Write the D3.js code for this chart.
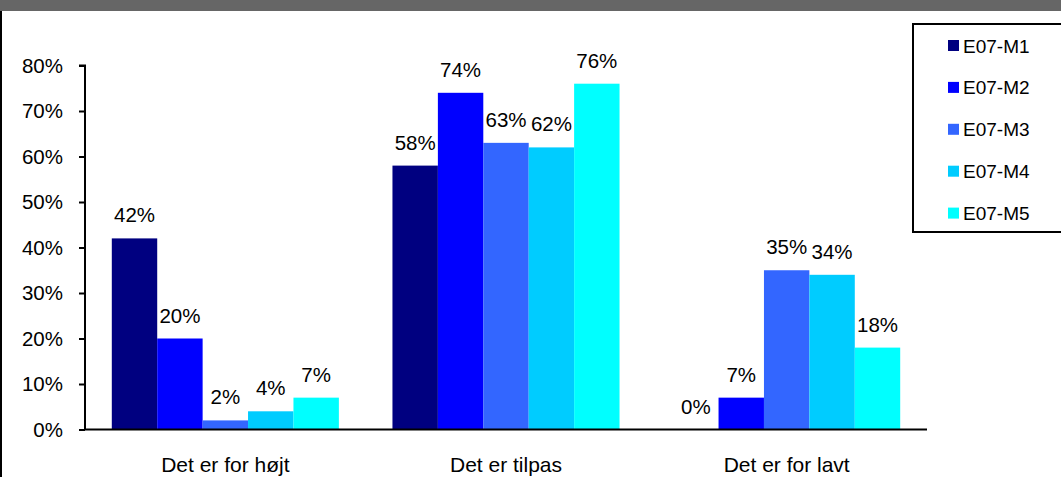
<!DOCTYPE html>
<html>
<head>
<meta charset="utf-8">
<script src="https://cdn.jsdelivr.net/npm/d3@7"></script>
<style>
  html, body { margin: 0; padding: 0; background: #fff; }
  svg { display: block; font-family: "Liberation Sans", Arial, sans-serif; }
</style>
</head>
<body>
<svg id="chart" width="1061" height="477"></svg>
<script>
// Answer categories and survey rounds
const categories = ["Det er for højt", "Det er tilpas", "Det er for lavt"];
const seriesNames = ["E07-M1", "E07-M2", "E07-M3", "E07-M4", "E07-M5"];

// Share of answers per round, in percent (one array per category)
const forHoejt = [42, 20, 2, 4, 7];
const tilpas   = [58, 74, 63, 62, 76];
const forLavt  = [0, 7, 35, 34, 18];

const yTicks = [0, 10, 20, 30, 40, 50, 60, 70, 80];

const seriesColors = ["#000080", "#0000FF", "#3366FF", "#00CCFF", "#00FFFF"];

const valuesByCategory = [forHoejt, tilpas, forLavt];
const rows = categories.map((c, i) => ({
  category: c,
  values: seriesNames.map((s, j) => ({ series: s, value: valuesByCategory[i][j] }))
}));

const svg = d3.select("#chart");
const W = 1061, H = 477;

// Frame: dark strip on top and a rule down the left side
svg.append("rect").attr("x", 0).attr("y", 0).attr("width", W).attr("height", 11).attr("fill", "#666666");
svg.append("rect").attr("x", 0).attr("y", 11).attr("width", 2).attr("height", H - 11).attr("fill", "#000");

const plot = { left: 85, right: 927, top: 65.5, bottom: 429.5 };

const x0 = d3.scaleBand().domain(categories).range([plot.left, plot.right]).padding(0);
const x1 = d3.scaleBand().domain(seriesNames).range([0, x0.bandwidth()])
  .paddingInner(0).paddingOuter(0.59);
const y = d3.scaleLinear().domain([0, 80]).range([plot.bottom, plot.top]);
const color = d3.scaleOrdinal().domain(seriesNames).range(seriesColors);

// Bars
const groups = svg.append("g").selectAll("g").data(rows).join("g")
  .attr("transform", d => `translate(${x0(d.category)},0)`);

groups.selectAll("rect").data(d => d.values).join("rect")
  .attr("x", d => x1(d.series))
  .attr("y", d => y(d.value))
  .attr("width", x1.bandwidth())
  .attr("height", d => y(0) - y(d.value))
  .attr("fill", d => color(d.series));

// Value labels above bars
groups.selectAll("text").data(d => d.values).join("text")
  .attr("x", d => x1(d.series) + x1.bandwidth() / 2)
  .attr("y", d => y(d.value) - 16)
  .attr("text-anchor", "middle")
  .attr("font-size", "20.5px")
  .attr("fill", "#000")
  .text(d => d.value + "%");

// Y axis
const yAxis = d3.axisLeft(y).tickValues(yTicks).tickFormat(d => d + "%").tickSize(6).tickPadding(16);
const yg = svg.append("g").attr("transform", `translate(${plot.left},0)`).call(yAxis);
yg.select(".domain").attr("stroke", "#000").attr("stroke-width", 2)
  .attr("d", `M-6,${plot.top}H0V${plot.bottom}`);
yg.selectAll(".tick line").attr("stroke", "#000").attr("stroke-width", 2);
yg.selectAll(".tick text").attr("font-size", "20.5px").attr("fill", "#000")
  .attr("font-family", "Liberation Sans, Arial, sans-serif");

// X axis (baseline without ticks)
const xAxis = d3.axisBottom(x0).tickSize(0).tickPadding(28);
const xg = svg.append("g").attr("transform", `translate(0,${plot.bottom})`).call(xAxis);
xg.select(".domain").attr("stroke", "#000").attr("stroke-width", 2)
  .attr("d", `M${plot.left - 1},0H${plot.right}`);
xg.selectAll(".tick text").attr("font-size", "21px").attr("fill", "#000")
  .attr("font-family", "Liberation Sans, Arial, sans-serif");

// Legend
const legend = svg.append("g");
legend.append("rect").attr("x", 913).attr("y", 24).attr("width", 160).attr("height", 208)
  .attr("fill", "#fff").attr("stroke", "#000").attr("stroke-width", 2);
const items = legend.selectAll("g.item").data(seriesNames).join("g").attr("class", "item")
  .attr("transform", (d, i) => `translate(948,${45.5 + i * 41.9})`);
items.append("rect").attr("x", 0).attr("y", -5.5).attr("width", 11).attr("height", 11)
  .attr("fill", d => color(d));
items.append("text").attr("x", 15).attr("y", 7).attr("font-size", "19px").attr("fill", "#000")
  .text(d => d);
</script>
</body>
</html>
